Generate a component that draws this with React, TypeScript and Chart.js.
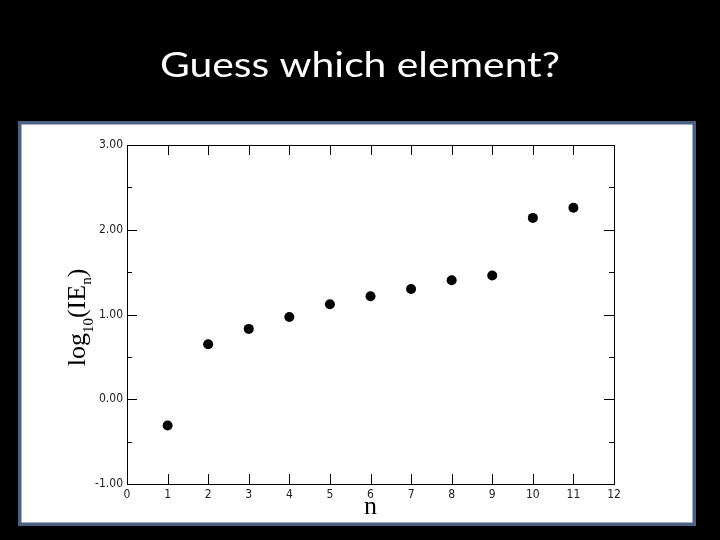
import { useEffect, useRef } from 'react';
import { Chart, registerables } from 'chart.js';

Chart.register(...registerables);

// ---- data ----
const electronNumber = [1, 2, 3, 4, 5, 6, 7, 8, 9, 10, 11];
const logIonizationEnergy = [-0.31, 0.65, 0.83, 0.97, 1.12, 1.215, 1.3, 1.405, 1.46, 2.14, 2.26];
const xTickValues = [0, 1, 2, 3, 4, 5, 6, 7, 8, 9, 10, 11, 12];
const yTickValues = [-1, 0, 1, 2, 3];
const yMinorTickValues = [-0.5, 0.5, 1.5, 2.5];
const chartTitle = 'Guess which element?';
const xAxisTitle = 'n';

const framePlugin = {
  id: 'framePlugin',
  beforeDraw(chart: any) {
    const ctx = chart.ctx;
    ctx.save();
    ctx.fillStyle = '#000000';
    ctx.fillRect(0, 0, chart.width, chart.height);
    ctx.fillStyle = '#4b6283';
    ctx.fillRect(18, 121, 678, 405);
    ctx.fillStyle = '#ffffff';
    ctx.fillRect(21.5, 124.5, 671, 398);

    // slide title
    ctx.translate(360, 77);
    ctx.scale(1.2, 1);
    ctx.font = "34px 'Lato'";
    ctx.fillStyle = '#ffffff';
    ctx.textAlign = 'center';
    ctx.textBaseline = 'alphabetic';
    ctx.fillText(chartTitle, 0, 0);
    ctx.restore();
  },
  afterDraw(chart: any) {
    const ctx = chart.ctx;
    const { left, right, top, bottom } = chart.chartArea;
    const xs = chart.scales.x;
    const ys = chart.scales.y;
    ctx.save();
    ctx.strokeStyle = '#000000';
    ctx.lineWidth = 1;
    ctx.strokeRect(Math.round(left) + 0.5, Math.round(top) + 0.5, Math.round(right - left), Math.round(bottom - top));
    ctx.beginPath();
    xTickValues.forEach((v) => {
      if (v === xTickValues[0] || v === xTickValues[xTickValues.length - 1]) return;
      const px = Math.round(xs.getPixelForValue(v)) + 0.5;
      ctx.moveTo(px, bottom);
      ctx.lineTo(px, bottom - 10);
      ctx.moveTo(px, top);
      ctx.lineTo(px, top + 10);
    });
    yTickValues.forEach((v) => {
      if (v === yTickValues[0] || v === yTickValues[yTickValues.length - 1]) return;
      const py = Math.round(ys.getPixelForValue(v)) + 0.5;
      ctx.moveTo(left, py);
      ctx.lineTo(left + 10, py);
      ctx.moveTo(right, py);
      ctx.lineTo(right - 10, py);
    });
    yMinorTickValues.forEach((v) => {
      const py = Math.round(ys.getPixelForValue(v)) + 0.5;
      ctx.moveTo(left, py);
      ctx.lineTo(left + 5, py);
      ctx.moveTo(right, py);
      ctx.lineTo(right - 5, py);
    });
    ctx.stroke();

    // y axis title: log10(IEn) with subscripts
    const big = "26px 'Liberation Serif'";
    const small = "15px 'Liberation Serif'";
    const parts = [
      { t: 'log', f: big, dy: 0 },
      { t: '10', f: small, dy: 8 },
      { t: '(IE', f: big, dy: 0 },
      { t: 'n', f: small, dy: 6 },
      { t: ')', f: big, dy: 0 },
    ];
    let total = 0;
    parts.forEach((p) => {
      ctx.font = p.f;
      total += ctx.measureText(p.t).width;
    });
    const cy = (top + bottom) / 2 + 3;
    ctx.translate(85, cy);
    ctx.rotate(-Math.PI / 2);
    ctx.fillStyle = '#000000';
    ctx.textBaseline = 'alphabetic';
    ctx.textAlign = 'left';
    let x = -total / 2;
    parts.forEach((p) => {
      ctx.font = p.f;
      ctx.fillText(p.t, x, p.dy);
      x += ctx.measureText(p.t).width;
    });
    ctx.restore();
  },
};

export default function App() {
  const ref = useRef<HTMLCanvasElement>(null);

  useEffect(() => {
    if (!ref.current) return;
    const points = electronNumber.map((n, i) => ({ x: n, y: logIonizationEnergy[i] }));
    const tickFont = { family: "'DejaVu Sans Condensed', 'DejaVu Sans'", size: 12 };
    const chart = new Chart(ref.current, {
      type: 'scatter',
      data: {
        datasets: [
          {
            data: points,
            backgroundColor: '#000000',
            borderColor: '#000000',
            borderWidth: 0,
            pointRadius: 5,
            pointHoverRadius: 5,
          },
        ],
      },
      options: {
        animation: false,
        responsive: false,
        devicePixelRatio: 1,
        layout: { padding: { top: 145, left: 0, right: 0, bottom: 0 } },
        plugins: {
          legend: { display: false },
          tooltip: { enabled: false },
          title: { display: false },
        },
        scales: {
          x: {
            type: 'linear',
            min: 0,
            max: 12,
            afterBuildTicks: (scale: any) => {
              scale.ticks = xTickValues.map((v) => ({ value: v }));
            },
            afterFit: (scale: any) => {
              scale.height = 56;
            },
            ticks: {
              autoSkip: false,
              maxRotation: 0,
              color: '#222222',
              font: tickFont,
              padding: 4,
              callback: (v: any) => String(v),
            },
            grid: { display: false, drawTicks: false },
            border: { display: false },
            title: {
              display: true,
              text: xAxisTitle,
              color: '#000000',
              font: { family: "'Liberation Serif'", size: 26 },
              padding: { top: 0, bottom: 17 },
            },
          },
          y: {
            type: 'linear',
            min: -1,
            max: 3,
            afterBuildTicks: (scale: any) => {
              scale.ticks = yTickValues.map((v) => ({ value: v }));
            },
            afterFit: (scale: any) => {
              scale.width = 127;
            },
            ticks: {
              color: '#222222',
              font: tickFont,
              padding: 4,
              callback: (v: any) => Number(v).toFixed(2),
            },
            grid: { display: false, drawTicks: false },
            border: { display: false },
          },
          y2: {
            type: 'linear',
            position: 'right',
            min: -1,
            max: 3,
            display: true,
            afterFit: (scale: any) => {
              scale.width = 106;
            },
            ticks: { display: false },
            grid: { display: false, drawTicks: false },
            border: { display: false },
          },
        },
      } as any,
      plugins: [framePlugin],
    });
    return () => chart.destroy();
  }, []);

  return (
    <div style={{ position: 'absolute', left: 0, top: 0, width: 720, height: 540, background: '#000' }}>
      <canvas ref={ref} width={720} height={540} style={{ display: 'block' }} />
    </div>
  );
}
